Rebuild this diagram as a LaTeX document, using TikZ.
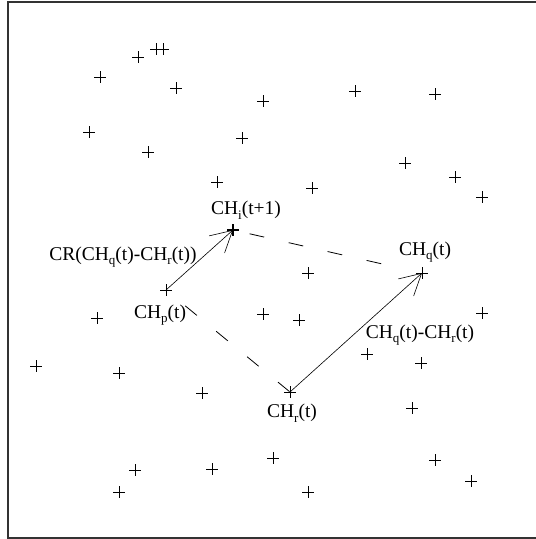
\documentclass[tikz,border=0pt]{standalone}
\usepackage{fontspec}
\setmainfont{Liberation Serif}
\usepackage{tikz}
\usetikzlibrary{positioning,arrows.meta}

\newcommand{\lowsub}[1]{\raisebox{-0.5ex}{\fontsize{13}{13}\selectfont #1}}

\begin{document}
\begin{tikzpicture}[x=1pt,y=-1pt,
		cross/.style={line width=0.9pt},
		bigcross/.style={line width=2pt},
		vec/.style={line width=0.6pt,-{Straight Barb[length=21pt,width=23pt,line width=0.6pt]}},
		gap/.style={line width=0.8pt,dash pattern=on 15pt off 25pt},
		lbl/.style={inner sep=0pt,font=\fontsize{19.5}{21}\selectfont}]
		
		\useasboundingbox (0,0) rectangle (536,539);
		\draw[line width=1.4pt,black!80] (8,2) rectangle (545,538);
		
		\coordinate (p) at (166,290);
		\coordinate (i) at (233,230);
		\coordinate (q) at (422,273);
		\coordinate (r) at (290,392);
		
		\foreach \x/\y in {138/57,156/49,163/49,100/77,176/88,263/101,355/91,435/94,
			89/132,148/152,242/138,405/163,217/182,312/188,455/177,482/197,
			308/273,263/314,299/320,482/313,97/318,367/354,421/363,412/408,
			36/366,119/373,202/393,273/458,135/470,212/469,119/492,308/492,
			435/460,471/481,166/290,422/273,290/392}
		\draw[cross] (\x,\y) +(-6,0) -- +(6,0) +(0,-6) -- +(0,6);
		
		\draw[bigcross] (i) +(-6,0) -- +(6,0) +(0,-6) -- +(0,6);
		
		\draw[vec] (p) -- (i);
		\draw[vec] (r) -- (q);
		
		\draw[gap,dash phase=23pt,shorten >=40pt] (i) -- (q);
		\draw[gap,dash phase=15pt] (p) -- (r);
		
		\node[lbl] (lbli) at (246,210) {CH\lowsub{i}(t+1)};
		\node[lbl] (lblcr) at (123,257) {CR(CH\lowsub{q}(t)-CH\lowsub{r}(t))};
		\node[lbl] (lblp) at (160,315) {CH\lowsub{p}(t)};
		\node[lbl] (lblq) at (425,252) {CH\lowsub{q}(t)};
		\node[lbl] (lbldiff) at (420,335) {CH\lowsub{q}(t)-CH\lowsub{r}(t)};
		\node[lbl] (lblr) at (292,413) {CH\lowsub{r}(t)};
		
	\end{tikzpicture}
\end{document}
